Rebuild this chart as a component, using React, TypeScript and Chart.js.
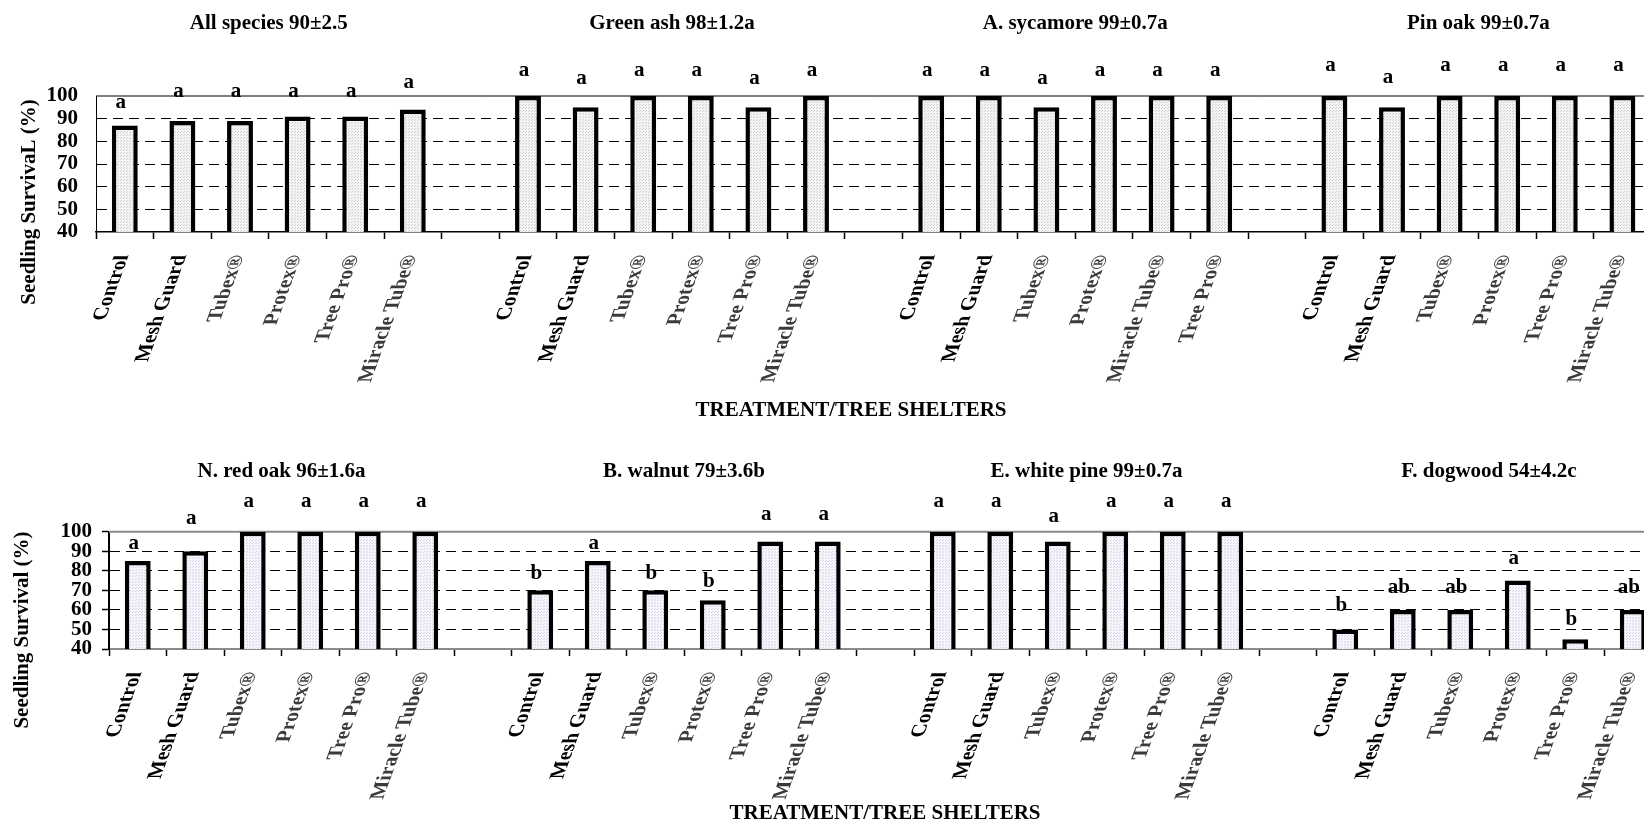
import React, { useEffect, useRef } from "react";
import { Chart, registerables } from "chart.js";

Chart.register(...registerables);

const FONT = "'Liberation Serif', 'Times New Roman', serif";

// ---- categories ----
const treatments = ["Control", "Mesh Guard", "Tubex®", "Protex®", "Tree Pro®", "Miracle Tube®"];
const treatmentsSycamore = ["Control", "Mesh Guard", "Tubex®", "Protex®", "Miracle Tube®", "Tree Pro®"];

// ---- group titles ----
const topTitles = ["All species 90±2.5", "Green ash 98±1.2a", "A. sycamore 99±0.7a", "Pin oak 99±0.7a"];
const bottomTitles = ["N. red oak 96±1.6a", "B. walnut 79±3.6b", "E. white pine 99±0.7a", "F. dogwood 54±4.2c"];

// ---- survival (%) ----
const allSpecies = [87, 89, 89, 91, 91, 94];
const greenAsh = [100, 95, 100, 100, 95, 100];
const sycamore = [100, 100, 95, 100, 100, 100];
const pinOak = [100, 95, 100, 100, 100, 100];
const redOak = [85, 90, 100, 100, 100, 100];
const walnut = [70, 85, 70, 65, 95, 95];
const whitePine = [100, 100, 95, 100, 100, 100];
const dogwood = [50, 60, 60, 75, 45, 60];

// ---- significance letters ----
const allSpeciesSig = ["a", "a", "a", "a", "a", "a"];
const greenAshSig = ["a", "a", "a", "a", "a", "a"];
const sycamoreSig = ["a", "a", "a", "a", "a", "a"];
const pinOakSig = ["a", "a", "a", "a", "a", "a"];
const redOakSig = ["a", "a", "a", "a", "a", "a"];
const walnutSig = ["b", "a", "b", "b", "a", "a"];
const whitePineSig = ["a", "a", "a", "a", "a", "a"];
const dogwoodSig = ["b", "ab", "ab", "a", "b", "ab"];

// ---- level (in % units) where each letter sits ----
const allSpeciesSigAt = [94.6, 99.7, 99.7, 99.7, 99.7, 103.4];
const greenAshSigAt = [108.8, 105.3, 108.8, 108.8, 105.3, 108.8];
const sycamoreSigAt = [108.8, 108.8, 105.3, 108.8, 108.8, 108.8];
const pinOakSigAt = [111.2, 105.6, 111.2, 111.2, 111.2, 111.2];
const redOakSigAt = [91, 103.9, 112.5, 112.5, 112.5, 112.5];
const walnutSigAt = [75.7, 91, 75.7, 71.6, 106, 106];
const whitePineSigAt = [112.5, 112.5, 105.1, 112.5, 112.5, 112.5];
const dogwoodSigAt = [59.6, 68.5, 68.5, 83.5, 52.3, 68.5];

const yMin = 40;
const yMax = 100;
const yStep = 10;

type Group = { title: string; labels: string[]; values: number[]; sig: string[]; sigAt: number[] };

function buildPanel(groups: Group[]) {
  const labels: string[] = [];
  const values: (number | null)[] = [];
  const sig: string[] = [];
  const sigAt: number[] = [];
  const ranges: { title: string; start: number; end: number }[] = [];
  groups.forEach((g, gi) => {
    if (gi > 0) {
      labels.push("");
      values.push(null);
      sig.push("");
      sigAt.push(0);
    }
    const start = labels.length;
    g.labels.forEach((l, i) => {
      labels.push(l);
      values.push(g.values[i]);
      sig.push(g.sig[i]);
      sigAt.push(g.sigAt[i]);
    });
    ranges.push({ title: g.title, start, end: labels.length - 1 });
  });
  return { labels, values, sig, sigAt, ranges };
}

const topPanel = buildPanel([
  { title: topTitles[0], labels: treatments, values: allSpecies, sig: allSpeciesSig, sigAt: allSpeciesSigAt },
  { title: topTitles[1], labels: treatments, values: greenAsh, sig: greenAshSig, sigAt: greenAshSigAt },
  { title: topTitles[2], labels: treatmentsSycamore, values: sycamore, sig: sycamoreSig, sigAt: sycamoreSigAt },
  { title: topTitles[3], labels: treatments, values: pinOak, sig: pinOakSig, sigAt: pinOakSigAt },
]);

const bottomPanel = buildPanel([
  { title: bottomTitles[0], labels: treatments, values: redOak, sig: redOakSig, sigAt: redOakSigAt },
  { title: bottomTitles[1], labels: treatments, values: walnut, sig: walnutSig, sigAt: walnutSigAt },
  { title: bottomTitles[2], labels: treatments, values: whitePine, sig: whitePineSig, sigAt: whitePineSigAt },
  { title: bottomTitles[3], labels: treatments, values: dogwood, sig: dogwoodSig, sigAt: dogwoodSigAt },
]);

function makePattern(base: string, dot: string) {
  const c = document.createElement("canvas");
  c.width = 3;
  c.height = 3;
  const g = c.getContext("2d")!;
  g.fillStyle = base;
  g.fillRect(0, 0, 3, 3);
  g.fillStyle = dot;
  g.fillRect(0, 0, 1, 1);
  g.fillRect(1, 2, 1, 1);
  const p = document.createElement("canvas").getContext("2d")!.createPattern(c, "repeat");
  return p || base;
}

type PanelCfg = {
  panel: ReturnType<typeof buildPanel>;
  width: number;
  height: number;
  top: number;
  right: number;
  bottom: number;
  titleBaseline: number;
  xTitle: string;
  xTitlePos: [number, number];
  yTitle: string;
  yTitlePos: [number, number];
  topLineColor: string;
  topLineWidth: number;
  axisColor: string;
  axisWidth: number;
  yAxisWidth: number;
  yTickLen: number;
  yTickPad: number;
  fillBase: string;
  fillDot: string;
};

const LABEL_ANGLE = (70 * Math.PI) / 180;

function makeChart(canvas: HTMLCanvasElement, cfg: PanelCfg) {
  const xHeight = 150;
  const overlay = {
    id: "overlay",
    beforeDatasetsDraw(chart: any) {
      const { ctx, chartArea, scales } = chart;
      const yy = scales.y.getPixelForValue(100);
      ctx.save();
      ctx.strokeStyle = cfg.topLineColor;
      ctx.lineWidth = cfg.topLineWidth;
      ctx.beginPath();
      ctx.moveTo(chartArea.left, yy);
      ctx.lineTo(chartArea.right, yy);
      ctx.stroke();
      ctx.restore();
    },
    afterDraw(chart: any) {
      const { ctx, scales } = chart;
      const x = scales.x;
      const y = scales.y;
      ctx.save();
      ctx.fillStyle = "#000";
      ctx.font = `bold 21px ${FONT}`;
      ctx.textAlign = "center";
      ctx.textBaseline = "alphabetic";
      cfg.panel.ranges.forEach((r) => {
        const cx = (x.getPixelForValue(r.start) + x.getPixelForValue(r.end)) / 2;
        ctx.fillText(r.title, cx, cfg.titleBaseline);
      });
      cfg.panel.sig.forEach((s, i) => {
        if (!s) return;
        ctx.fillText(s, x.getPixelForValue(i) - 4, y.getPixelForValue(cfg.panel.sigAt[i]));
      });
      ctx.fillText(cfg.xTitle, cfg.xTitlePos[0], cfg.xTitlePos[1]);

      // slanted category labels (text runs diagonally, glyphs turned sideways)
      ctx.textAlign = "right";
      ctx.textBaseline = "alphabetic";
      const ux = Math.cos(LABEL_ANGLE);
      const uy = -Math.sin(LABEL_ANGLE);
      cfg.panel.labels.forEach((l, i) => {
        if (!l) return;
        ctx.save();
        ctx.translate(x.getPixelForValue(i) + 4, x.top + 23);
        ctx.transform(ux, uy, 1, 0, 0, 0);
        ctx.fillStyle = l.includes("®") ? "#3a3a3a" : "#000";
        ctx.fillText(l, 0, 0);
        ctx.restore();
      });

      ctx.translate(cfg.yTitlePos[0], cfg.yTitlePos[1]);
      ctx.rotate(-Math.PI / 2);
      ctx.textAlign = "center";
      ctx.textBaseline = "middle";
      ctx.fillStyle = "#000";
      ctx.fillText(cfg.yTitle, 0, 0);
      ctx.restore();
    },
  };

  return new Chart(canvas, {
    type: "bar",
    data: {
      labels: cfg.panel.labels,
      datasets: [
        {
          data: cfg.panel.values as any,
          backgroundColor: makePattern(cfg.fillBase, cfg.fillDot) as any,
          borderColor: "#000",
          borderWidth: 4.5,
          borderSkipped: false,
          barPercentage: 0.45,
          categoryPercentage: 1,
        },
      ],
    },
    options: {
      animation: false,
      responsive: false,
      maintainAspectRatio: false,
      events: [],
      layout: {
        padding: {
          left: 0,
          top: cfg.top,
          right: cfg.width - cfg.right,
          bottom: cfg.height - cfg.bottom - xHeight,
        },
      },
      plugins: {
        legend: { display: false },
        tooltip: { enabled: false },
        title: { display: false },
      },
      scales: {
        x: {
          grid: {
            offset: true,
            drawOnChartArea: false,
            drawTicks: true,
            tickLength: 7,
            tickColor: "#000",
            tickWidth: 1.5,
          },
          border: { color: cfg.axisColor, width: cfg.axisWidth },
          ticks: { display: false },
          afterFit: (s: any) => {
            s.height = xHeight;
            s.paddingLeft = 0;
            s.paddingRight = 0;
          },
        },
        y: {
          min: yMin,
          max: yMax,
          ticks: {
            stepSize: yStep,
            autoSkip: false,
            padding: cfg.yTickPad,
            font: { family: FONT, size: 21, weight: "bold" },
            color: "#000",
          },
          grid: {
            color: (ctx: any) =>
              ctx.tick && (ctx.tick.value === yMin || ctx.tick.value === yMax) ? "rgba(0,0,0,0)" : "#000",
            lineWidth: 1,
            drawTicks: cfg.yTickLen > 0,
            tickLength: cfg.yTickLen,
            tickColor: "#000",
            tickWidth: 1.5,
          },
          border: { color: "#000", width: cfg.yTickLen > 0 ? 2 : 1, dash: [10, 6] },
          afterFit: (s: any) => {
            s.width = cfg.yAxisWidth;
            s.paddingTop = 0;
            s.paddingBottom = 0;
          },
        },
      },
    },
    plugins: [overlay],
  });
}

const W = 1700;

const topCfg: PanelCfg = {
  panel: topPanel,
  width: W,
  height: 420,
  top: 96,
  right: 1651.2,
  bottom: 232,
  titleBaseline: 29,
  xTitle: "TREATMENT/TREE SHELTERS",
  xTitlePos: [851, 416],
  yTitle: "Seedling SurvivaL (%)",
  yTitlePos: [30, 202],
  topLineColor: "#000",
  topLineWidth: 1,
  axisColor: "#000",
  axisWidth: 1.5,
  yAxisWidth: 96,
  yTickLen: 0,
  yTickPad: 18,
  fillBase: "#f4f4f4",
  fillDot: "#cfcfcf",
};

const bottomCfg: PanelCfg = {
  panel: bottomPanel,
  width: W,
  height: 401,
  top: 111.7,
  right: 1661.5,
  bottom: 229,
  titleBaseline: 57,
  xTitle: "TREATMENT/TREE SHELTERS",
  xTitlePos: [885, 399],
  yTitle: "Seedling Survival (%)",
  yTitlePos: [23, 210],
  topLineColor: "#8a8a8a",
  topLineWidth: 2,
  axisColor: "#8a8a8a",
  axisWidth: 2,
  yAxisWidth: 109,
  yTickLen: 7,
  yTickPad: 10,
  fillBase: "#f6f6fd",
  fillDot: "#d2d2e2",
};

export default function App() {
  const topRef = useRef<HTMLCanvasElement>(null);
  const botRef = useRef<HTMLCanvasElement>(null);

  useEffect(() => {
    const c1 = makeChart(topRef.current!, topCfg);
    const c2 = makeChart(botRef.current!, bottomCfg);
    return () => {
      c1.destroy();
      c2.destroy();
    };
  }, []);

  return (
    <div
      style={{
        position: "absolute",
        left: 0,
        top: 0,
        width: 1644,
        height: 821,
        overflow: "hidden",
        background: "#fff",
      }}
    >
      <canvas
        ref={topRef}
        width={W}
        height={420}
        style={{ position: "absolute", left: 0, top: 0, width: W, height: 420, display: "block" }}
      />
      <canvas
        ref={botRef}
        width={W}
        height={401}
        style={{ position: "absolute", left: 0, top: 420, width: W, height: 401, display: "block" }}
      />
    </div>
  );
}
